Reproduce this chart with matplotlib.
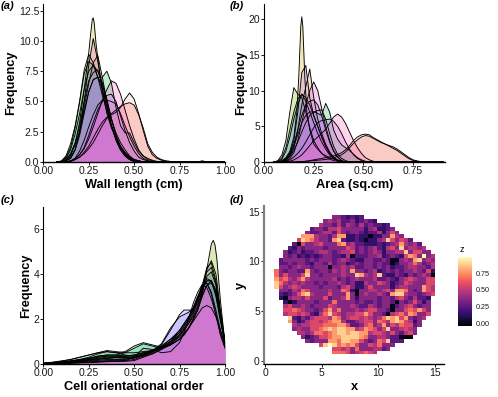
import numpy as np
import matplotlib
matplotlib.use('Agg')
import matplotlib.pyplot as plt

plt.rcParams['font.family'] = ['Liberation Sans', 'DejaVu Sans']

W, H = 498, 397
hues = ['#F8766D', '#F2806A', '#C4B000', '#B3AD20', '#7CAE00', '#00BA38', '#00C08B',
        '#40BFB0', '#8A90FF', '#A08AFF', '#C47CFF', '#DF70F8', '#F264E3', '#FF66B8']
alphas = [.3, .12, .27, .27, .27, .25, .22, .22, .27, .3, .3, .3, .3, .27]

# (a) wall length
wall_x = [.075, .1, .125, .15, .175, .2, .225, .25, .275, .3, .325, .35, .375, .4, .425, .45, .475, .5, .525,
          .55, .575, .6, .625, .65, .675, .7, .725, .75, .8, .85, .875, .9, .95, 1.0]
wall_peak_x = [.1, .125, .15, .175, .2, .225, .25, .26, .27, .275, .28, .29, .3, .325, .35, .375, .4, .425, .45, .475, .5, .525, .55]
wall_peak_y = [0, .1, .5, 1.5, 3.3, 6, 9, 10.5, 11.8, 11.9, 11.5, 9.8, 8.6, 5.8, 4, 2.8, 2, 1.3, .8, .4, .2, .1, 0]
wall_curves = [
    [0, 0, 0, .1, .2, .4, .7, 1.1, 1.6, 2.3, 3.0, 3.6, 4.0, 4.3, 4.6, 4.8, 4.9, 4.7, 3.9, 2.8, 1.5, .8, .4, .2, .1, .05, 0, 0, .02, 0, .1, 0, 0, 0],
    [0, 0, 0, .1, .2, .4, .8, 1.3, 2, 2.7, 3.3, 3.7, 3.9, 4.1, 4.5, 5.2, 5.7, 5.2, 4.0, 2.6, 1.3, .6, .3, .15, .05],
    (wall_peak_x, wall_peak_y),
    [0, 0, .1, .3, 1, 2.5, 4.5, 6.5, 8.2, 8.8, 7, 5, 3.5, 2.4, 1.6, 1, .5, .2, .1],
    [0, .05, .4, 1.2, 2.8, 5, 7.6, 8.9, 8.2, 7, 5.5, 4.2, 3, 2, 1.2, .7, .4, .2, .1],
    [0, 0, .2, .6, 1.4, 2.6, 4.2, 5.8, 6.8, 7, 7, 7.5, 6.5, 4.5, 3, 2.4, 2.4, 1.6, .9, .5, .3, .15, .05],
    [0, .1, .5, 1.5, 3, 5, 7.3, 8.3, 8, 7, 6, 4.5, 3, 1.8, 1, .5, .2, .1],
    [0, .05, .3, 1, 2.3, 4, 6, 7.5, 8, 7.5, 6.5, 5, 3.5, 2.2, 1.3, .7, .3, .1],
    [0, 0, .2, .7, 1.6, 3, 5, 6.7, 7.4, 7.6, 6.5, 4.8, 3, 1.8, 1, .5, .2, .1],
    [0, 0, .1, .4, 1, 2.2, 4, 5.8, 6.8, 7, 6.4, 5.2, 3.6, 2.2, 1.2, .6, .2],
    [0, 0, 0, .05, .2, .6, 1.2, 2.2, 3.3, 4.3, 5, 5.5, 5.6, 5, 3.8, 2.6, 1.6, .9, .4, .2, .1],
    [0, 0, 0, .05, .3, .9, 1.8, 2.9, 3.9, 4.7, 5.1, 5.1, 5, 4.8, 4, 3, 2.1, 1.3, .7, .3, .1],
    [0, 0, .1, .3, 1, 2.5, 5, 8, 10.2, 8.3, 6, 4.5, 3, 2, 1.2, .6, .3, .1],
    [0, 0, 0, .1, .3, .6, 1.1, 1.9, 2.9, 4, 5.1, 6, 6.7, 6.5, 5.6, 4.3, 3, 1.9, 1, .5, .2, .1],
]

# (b) area
area_x = [round(.05 + .02 * i, 2) for i in range(39)] + [.85, .9]
area_peak_x = [.07, .09, .11, .13, .15, .165, .175, .185, .19, .195, .205, .215, .23, .25, .27, .29, .31, .33, .35, .37, .39, .41]
area_peak_y = [.05, .2, .6, 1.5, 3.5, 7, 12, 19, 20.3, 19, 12, 7, 4.5, 2.5, 1.8, 1.2, .9, .6, .4, .2, .1, 0]
area_curves = [
    [0, 0, 0, 0, 0, 0, .02, .05, .1, .15, .2, .25, .3, .35, .45, .6, .8, 1, 1.4, 2, 2.6, 3.1, 3.5, 3.7, 3.6, 3.3, 3, 2.7, 2.5, 2.3, 2.1, 1.8, 1.4, 1, .6, .3, .15, .05],
    [0, 0, 0, 0, 0, 0, .02, .05, .1, .2, .3, .4, .5, .6, .7, .85, 1.05, 1.3, 1.7, 2.3, 3, 3.5, 3.8, 3.9, 3.8, 3.4, 3.1, 2.8, 2.5, 2.2, 1.9, 1.6, 1.2, .8, .45, .2, .1, .03],
    (area_peak_x, area_peak_y),
    [0, 0, 0, .2, .8, 2, 4.5, 8, 10.5, 13, 9, 6, 4, 2.5, 1.4, .7, .3, .1],
    [0, .2, 1, 3, 7, 10.4, 9.5, 9, 7, 4.8, 3, 2, 1.2, .7, .4, .2, .1],
    [0, 0, .1, .3, .8, 1.6, 2.8, 4.2, 5.5, 6.5, 7, 6.8, 6.5, 8.2, 7, 4.5, 3.2, 2.4, 2, 1.6, 1.1, .6, .3, .1],
    [0, .1, .6, 2, 4.5, 7, 8.8, 9.5, 8.5, 7, 5.5, 4, 2.8, 1.8, 1, .5, .2, .05],
    [0, 0, .1, .4, 1, 2.2, 3.8, 5.5, 6.5, 7, 7, 7.2, 7.3, 6, 4, 2.2, 1.1, .5, .2],
    [0, .05, .4, 1.5, 3.5, 6, 8, 9.5, 9, 8, 6.5, 5, 3.5, 2.2, 1.2, .6, .2],
    [0, 0, .1, .5, 1.2, 2.5, 4.5, 6.5, 8, 8.5, 8.7, 8, 6.5, 4.5, 2.8, 1.5, .7, .2],
    [0, 0, 0, .1, .3, .7, 1.2, 1.9, 2.8, 3.8, 4.8, 5.5, 5.8, 5.9, 6, 5.7, 5, 4, 2.8, 1.8, 1, .5, .2],
    [0, 0, .1, .4, 1.2, 3, 7, 12.5, 13.5, 9, 6.5, 5, 3.5, 2.2, 1.2, .6, .2],
    [0, 0, 0, .1, .5, 1.3, 3, 5.5, 8, 10, 11.2, 10, 7.5, 5, 3, 1.6, .7, .2],
    [0, 0, 0, 0, .1, .3, .6, 1, 1.6, 2.3, 3, 3.5, 4, 4.6, 5.4, 6.3, 6.7, 6.3, 5.4, 4.2, 3, 2, 1.2, .6, .3, .1],
]

# (c) cell orientational order
order_x = [0, .05, .1, .15, .2, .25, .3, .35, .4, .45, .5, .55, .6, .65, .7, .75,
           .775, .8, .825, .85, .875, .9, .925, .95, .975, 1.0]
order_peak_x = order_x[:22] + [.915, .925, .935, .945, .955, .975, 1.0]
order_peak_y = [.02, .03, .05, .08, .12, .15, .2, .25, .3, .3, .3, .35, .45, .65, .85, 1.1, 1.35, 1.6, 1.95, 2.4, 3.1, 4.2,
                4.9, 5.35, 5.5, 5.3, 4.7, 2.8, .9]
order_curves = [
    [.03, .05, .1, .15, .2, .25, .35, .4, .4, .35, .35, .4, .55, .8, 1.1, 1.5, 1.8, 2.1, 2.5, 3, 3.4, 3.7, 3.7, 3.2, 2, .9],
    [.02, .04, .08, .12, .18, .25, .3, .35, .35, .35, .4, .5, .6, .8, 1.1, 1.4, 1.7, 2, 2.4, 2.9, 3.5, 4.1, 4.3, 3.6, 2.2, .9],
    [.02, .04, .08, .12, .2, .3, .45, .55, .5, .4, .35, .45, .55, .75, 1, 1.3, 1.6, 1.9, 2.3, 2.7, 3.1, 3.5, 3.7, 3.3, 2.1, 1],
    [.02, .03, .06, .1, .15, .2, .3, .35, .35, .35, .4, .5, .6, .7, .95, 1.3, 1.55, 1.8, 2.1, 2.6, 3.3, 4.2, 4.6, 4, 2.4, 1],
    (order_peak_x, order_peak_y),
    [.02, .04, .07, .12, .18, .25, .35, .4, .4, .5, .7, .9, .8, .7, .85, 1.1, 1.3, 1.6, 2, 2.5, 3.2, 3.9, 4.1, 3.5, 2.2, .9],
    [.03, .07, .12, .2, .3, .4, .5, .55, .5, .55, .8, .95, .85, .75, .85, 1.1, 1.3, 1.6, 2, 2.4, 3, 3.5, 3.6, 3.2, 2.1, 1],
    [.05, .08, .14, .2, .3, .4, .5, .6, .55, .5, .5, .55, .6, .75, 1, 1.4, 1.7, 2, 2.4, 2.9, 3.4, 3.8, 3.7, 3, 1.9, .9],
    [.02, .04, .06, .1, .15, .2, .25, .3, .3, .3, .3, .4, .6, .9, 1.6, 2.1, 2.2, 2.3, 2.5, 2.9, 3.5, 4.3, 4.5, 3.7, 2.2, .9],
    [.02, .03, .06, .09, .13, .18, .22, .25, .28, .25, .25, .4, .55, .85, 1.5, 2.2, 2.4, 2.4, 2.4, 2.8, 3.3, 3.7, 3.7, 3.1, 2, 1],
    [.02, .03, .05, .08, .1, .13, .16, .2, .2, .2, .3, .45, .55, .75, 1, 1.5, 1.8, 2.1, 2.5, 3, 3.5, 3.6, 3.2, 2.4, 1.5, .8],
    [.01, .02, .03, .05, .08, .1, .12, .15, .15, .15, .2, .35, .5, .7, .9, 1.2, 1.4, 1.6, 1.9, 2.2, 2.5, 2.6, 2.5, 2.1, 1.5, .9],
    [.01, .02, .03, .04, .06, .08, .1, .12, .12, .12, .15, .3, .45, .65, .9, 1.25, 1.5, 1.8, 2.2, 2.9, 3.5, 3.6, 3.1, 2.2, 1.3, .7],
    [.01, .02, .02, .03, .05, .06, .08, .1, .12, .15, .3, .7, .65, .5, .55, .95, 1.4, 2, 2.7, 3.2, 3.55, 3.4, 2.9, 2.2, 1.3, .75],
]

# (d) heatmap, digit = level 0-9, first filled column of each row in z_start
z_start = [13, 11, 10, 8, 7, 6, 5, 4, 3, 2, 2, 1, 1, 1, 0, 0, 0, 0, 0, 1, 1, 1, 2, 2, 2, 2, 3, 3, 4, 4, 5, 6, 7, 10, 13, 13]
z_rows = [
    '3321212',
    '343422312321',
    '4332424324232212',
    '2332445333331341123',
    '322344253233212241353',
    '77743324771121101133743',
    '58764332782112101134853542',
    '20533453336734221112123474342',
    '2132333323333542323421453834434',
    '312312234432344523234313344835533',
    '3231212123322140222334123215763934',
    '23333323233323432113322320034378343',
    '22323321332423312323323220133464234',
    '33234332333033434223323231223443324',
    '632332273233243437332341232323343251',
    '635333583323333433874348211321323430',
    '756435743333342323433342232134543355',
    '864343433232334323114335431235433355',
    '853454333323332453113533331344333754',
    '33243653333433651033443453776323754',
    '21235784333533373034334327884332345',
    '1034435333523347313333233245324221',
    '10133332333633332322323320323531 3'.replace(' ', ''),
    '453343233354333432243233023453233',
    '556543323574633343455332033565753',
    '455454214685434455753320456476335',
    '8213245554763455454346878573234',
    '731245545677422345536547875413',
    '43445556667752235634735465523',
    '3433556787887745765358334543',
    '443466567887887745543532453',
    '3123556778888763344322000',
    '3233377688775323658222',
    '58986767533546333',
    '5545363334423',
    '6665345654',
]

z_levels = 9.4
z_top = 0.99
z_grid = np.full((36, 36), np.nan)
for j, (start, row) in enumerate(zip(z_start, z_rows)):
    for i, ch in enumerate(row):
        if start + i < 36:
            z_grid[j, start + i] = (int(ch) + .4) / z_levels * z_top if ch != '0' else 0.0
x_edges = 0.8 + 0.395 * np.arange(37)
y_edges = 14.67 - 0.39 * np.arange(37)


def px_axes(fig, left, right, top, bottom):
    return fig.add_axes([left / W, 1 - bottom / H, (right - left) / W, (bottom - top) / H])


def style(ax):
    for s in ['top', 'right']:
        ax.spines[s].set_visible(False)
    ax.spines['left'].set_linewidth(0.8)
    ax.spines['bottom'].set_linewidth(1.0)
    ax.tick_params(length=2, width=0.7, labelsize=7.5, pad=1, colors='#1a1a1a')


def densities(ax, x, curves):
    x = np.array(x)
    for c, col, a in zip(curves, hues, alphas):
        if isinstance(c, tuple):
            xs, y = np.array(c[0]), np.array(c[1])
        else:
            xs = x
            y = np.zeros(len(x))
            y[:len(c)] = c
        # line first so later fills dim it, like the overlapping densities in the original
        ax.plot(xs, y, color='black', lw=0.65, solid_joinstyle='round')
        ax.fill_between(xs, 0, y, color=col, alpha=a, lw=0)


fig = plt.figure(figsize=(W / 100, H / 100), dpi=100)
label_size = 9.2

ax = px_axes(fig, 43.3, 225, 4, 162)
densities(ax, wall_x, wall_curves)
ax.set_xlim(0, 1)
ax.set_ylim(0, 13.05)
ax.set_xticks([0, .25, .5, .75, 1])
ax.set_xticklabels(['0.00', '0.25', '0.50', '0.75', '1.00'])
ax.set_yticks([0, 2.5, 5, 7.5, 10, 12.5])
ax.set_yticklabels(['0.0', '2.5', '5.0', '7.5', '10.0', '12.5'])
style(ax)
ax.set_xlabel('Wall length (cm)', fontweight='bold', fontsize=label_size, labelpad=2)
ax.set_ylabel('Frequency', fontweight='bold', fontsize=label_size, labelpad=1)

ax = px_axes(fig, 264, 445, 4, 162)
densities(ax, area_x, area_curves)
ax.set_xlim(0, 0.91)
ax.set_ylim(0, 22.1)
ax.set_xticks([0, .25, .5, .75])
ax.set_xticklabels(['0.00', '0.25', '0.50', '0.75'])
ax.set_yticks([0, 5, 10, 15, 20])
style(ax)
ax.set_xlabel('Area (sq.cm)', fontweight='bold', fontsize=label_size, labelpad=2)
ax.set_ylabel('Frequency', fontweight='bold', fontsize=label_size, labelpad=1)

ax = px_axes(fig, 43.3, 225, 206.7, 364)
densities(ax, order_x, order_curves)
ax.set_xlim(0, 1)
ax.set_ylim(0, 7)
ax.set_xticks([0, .25, .5, .75, 1])
ax.set_xticklabels(['0.00', '0.25', '0.50', '0.75', '1.00'])
ax.set_yticks([0, 2, 4, 6])
style(ax)
ax.set_xlabel('Cell orientational order', fontweight='bold', fontsize=label_size, labelpad=2)
ax.set_ylabel('Frequency', fontweight='bold', fontsize=label_size, labelpad=1)

ax = px_axes(fig, 264, 444, 206, 364)
mesh = ax.pcolormesh(x_edges, y_edges, z_grid, cmap='magma', vmin=-0.04, vmax=z_top, linewidth=0)
ax.set_xlim(-0.1, 15.8)
ax.set_ylim(-0.33, 15.58)
ax.set_xticks([0, 5, 10, 15])
ax.set_yticks([0, 5, 10, 15])
style(ax)
ax.spines['left'].set_color('#7f7f7f')
ax.spines['left'].set_linewidth(1.6)
ax.set_xlabel('x', fontweight='bold', fontsize=label_size, labelpad=2)
ax.set_ylabel('y', fontweight='bold', fontsize=label_size, labelpad=1)

cax = px_axes(fig, 458, 472, 257, 326)
cb = fig.colorbar(mesh, cax=cax)
cb.outline.set_visible(False)
cb.set_ticks([0, .25, .5, .75])
cb.set_ticklabels(['0.00', '0.25', '0.50', '0.75'])
cax.tick_params(length=0, labelsize=5.2, pad=3, colors='#1a1a1a')
fig.text(460 / W, 1 - 249 / H, 'z', fontsize=6.5, ha='left', va='center')

for lab, px, py in [('(a)', 1, 6), ('(b)', 230, 6), ('(c)', 1, 200), ('(d)', 230, 200)]:
    fig.text(px / W, 1 - py / H, lab, fontsize=8, fontweight='bold', fontstyle='italic', ha='left', va='center')

fig.savefig('out.png', dpi=100)
